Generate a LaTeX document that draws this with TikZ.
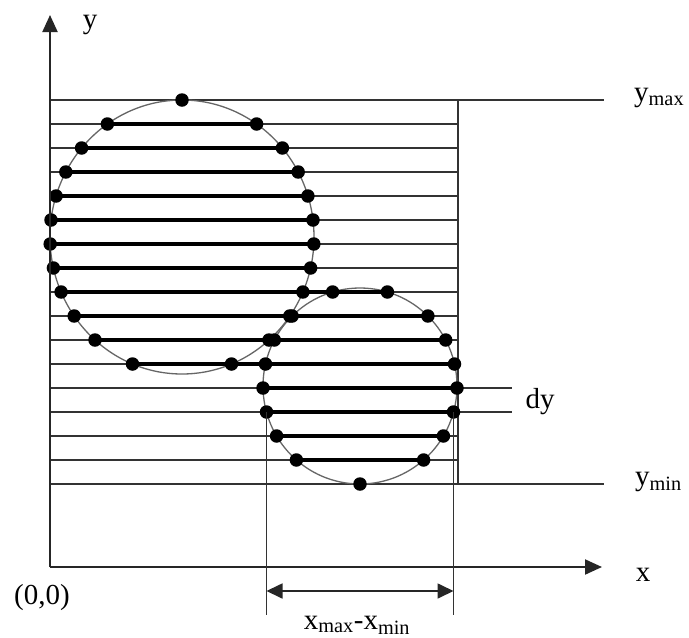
\documentclass[tikz,border=0pt]{standalone}
\usepackage{fontspec}
\setmainfont{Liberation Serif}
\usetikzlibrary{arrows.meta}
\begin{document}
\begin{tikzpicture}[x=1pt,y=-1pt,
  thinline/.style={line width=1.5pt, black!80},
  thickline/.style={line width=3.2pt, black},
  axisline/.style={line width=2pt, black!85, -{Triangle[length=17pt,width=15pt]}},
  dimline/.style={line width=1.7pt, black!85, {Triangle[length=16pt,width=15pt]}-{Triangle[length=16pt,width=15pt]}},
  outline/.style={line width=1.3pt, black!60},
  dot/.style={circle, fill=black, inner sep=0pt, minimum size=13.5pt},
  lbl/.style={inner sep=0pt, font=\fontsize{29}{32}\selectfont}]
\useasboundingbox[fill=white] (0,0) rectangle (689,638);

% frame of scan lines
\coordinate (TL) at (50,100);
\coordinate (TR) at (458,100);
\coordinate (BR) at (458,484);
\coordinate (ymaxend) at (604,100);
\coordinate (yminend) at (604,484);
\foreach \y in {124,148,...,460} {
  \coordinate (a\y) at (50,\y);
  \coordinate (b\y) at (458,\y);
  \draw[thinline] (a\y) -- (b\y);
}
\draw[thinline] (TL) -- (ymaxend);
\coordinate (BL) at (50,484);
\draw[thinline] (BL) -- (yminend);
\draw[thinline] (TR) -- (BR);
\coordinate (dyA) at (512,388);
\coordinate (dyB) at (512,412);
\draw[thinline] (b388) -- (dyA);
\draw[thinline] (b412) -- (dyB);

% circles
\draw[outline] (182,237) ellipse [x radius=132, y radius=137];
\draw[outline] (360,386) ellipse [x radius=97, y radius=98];

% filled spans
\foreach \y/\l/\r in {124/107.4/256.6, 148/81.6/282.4, 172/65.8/298.2,
  196/56.1/307.9, 220/51.0/313.0, 244/50.2/313.8, 268/53.4/310.6,
  292/61.1/387.4, 316/74.2/427.9, 340/95.0/445.7, 364/132.5/454.5,
  388/263.0/457.0, 412/266.5/453.5, 436/276.6/443.4, 460/296.4/423.6} {
  \coordinate (L\y) at (\l,\y);
  \coordinate (R\y) at (\r,\y);
  \draw[thickline] (L\y) -- (R\y);
}

% intersection dots
\foreach \x/\y [count=\i] in {182/100,
  107.4/124, 256.6/124, 81.6/148, 282.4/148, 65.8/172, 298.2/172,
  56.1/196, 307.9/196, 51.0/220, 313.0/220, 50.2/244, 313.8/244,
  53.4/268, 310.6/268,
  61.1/292, 302.9/292, 332.6/292, 387.4/292,
  74.2/316, 289.8/316, 292.1/316, 427.9/316,
  95.0/340, 269.0/340, 274.3/340, 445.7/340,
  132.5/364, 231.5/364, 265.5/364, 454.5/364,
  263.0/388, 457.0/388, 266.5/412, 453.5/412,
  276.6/436, 443.4/436, 296.4/460, 423.6/460, 360/484} {
  \node[dot] (d\i) at (\x,\y) {};
}

% axes
\coordinate (O) at (50,567);
\coordinate (Ytip) at (50,15);
\coordinate (Xtip) at (602,567);
\draw[axisline] (O) -- (Ytip);
\draw[axisline] (O) -- (Xtip);

% x extent of second circle
\coordinate (vl) at (266.5,615);
\coordinate (vr) at (453.5,615);
\draw[thinline] (L412) -- (vl);
\draw[thinline] (R412) -- (vr);
\coordinate (al) at (266.5,591);
\coordinate (ar) at (453.5,591);
\draw[dimline] (al) -- (ar);

% labels
\node[lbl] (ylab) at (90,25) {y};
\node[lbl, anchor=west] (ymaxlab) at (634,98) {y\textsubscript{max}};
\node[lbl, anchor=west] (yminlab) at (635,482) {y\textsubscript{min}};
\node[lbl] (xlab) at (643,575) {x};
\node[lbl] (dylab) at (540,402) {dy};
\node[lbl] (origin) at (42,598) {(0,0)};
\node[lbl] (wlab) at (357,625) {x\textsubscript{max}-x\textsubscript{min}};
\end{tikzpicture}
\end{document}
